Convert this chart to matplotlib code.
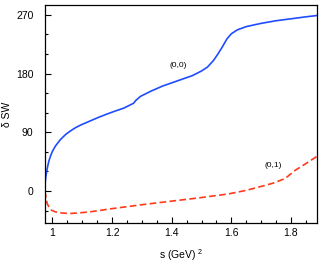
import numpy as np
import matplotlib
matplotlib.use("Agg")
import matplotlib.pyplot as plt
from matplotlib.ticker import MultipleLocator

plt.rcParams['font.family'] = ['Liberation Sans', 'DejaVu Sans']
plt.rcParams['mathtext.fontset'] = 'custom'
plt.rcParams['mathtext.rm'] = 'Liberation Sans'

# phase shift curves
s_00 = [0.974, 0.975, 0.976, 0.978, 0.981, 0.984, 0.988, 0.993, 1.000, 1.010,
        1.027, 1.045, 1.060, 1.077, 1.094, 1.127, 1.155, 1.183, 1.21, 1.239,
        1.272, 1.280, 1.295, 1.33, 1.37, 1.42, 1.47, 1.50, 1.52, 1.54, 1.555,
        1.57, 1.585, 1.60, 1.62, 1.65, 1.70, 1.75, 1.80, 1.85, 1.887]
d_00 = [0, 9, 15, 23, 31, 38, 46, 53, 61, 69,
        79, 87, 92, 97, 101, 107.5, 113, 118, 122.5, 127,
        134.5, 139, 145, 153, 161, 169, 177, 184, 190, 200, 210,
        221, 233, 241, 247, 252, 257, 261, 264, 267, 269]

s_01 = [0.974, 0.977, 0.982, 0.990, 0.997, 1.010, 1.025, 1.058, 1.09, 1.125,
        1.20, 1.30, 1.40, 1.50, 1.59, 1.65, 1.70, 1.74, 1.78, 1.815, 1.85, 1.887]
d_01 = [0, -6, -19, -26, -29.5, -32, -33.5, -34.5, -33.5, -32,
        -27, -21, -15.5, -10, -4.5, 1, 7, 12, 19, 32, 42, 53]

fig = plt.figure(figsize=(3.24, 2.68), dpi=100)
ax = fig.add_axes([0.138, 0.168, 0.840, 0.813])

ax.plot(s_00, d_00, color='#1f4cff', lw=1.2)
ax.plot(s_01, d_01, color='#ff3a1a', lw=1.2, dashes=(4, 2))

ax.text(1.394, 190, '(0,0)', fontsize=6)
ax.text(1.71, 37, '(0,1)', fontsize=6)

ax.set_xlim(0.974, 1.887)
ax.set_ylim(-49, 285)
ax.xaxis.set_major_locator(MultipleLocator(0.2))
ax.xaxis.set_minor_locator(MultipleLocator(0.05))
ax.yaxis.set_major_locator(MultipleLocator(90))
ax.yaxis.set_minor_locator(MultipleLocator(30))
ax.xaxis.set_major_formatter(plt.FuncFormatter(lambda v, p: ('%g' % round(v, 2))))
ax.tick_params(which='both', direction='in', labelsize=7.5, width=0.8)
ax.tick_params(which='major', length=4)
ax.tick_params(which='minor', length=2)
ax.tick_params(axis='y', pad=8)
ax.tick_params(top=False, right=False)
for sp in ax.spines.values():
    sp.set_linewidth(0.9)

ax.set_xlabel('s (GeV) $^{2}$', fontsize=7.5, labelpad=7)
ax.set_ylabel('\u03b4 SW', fontsize=7.5, labelpad=3)

fig.savefig('out.png', dpi=100)
